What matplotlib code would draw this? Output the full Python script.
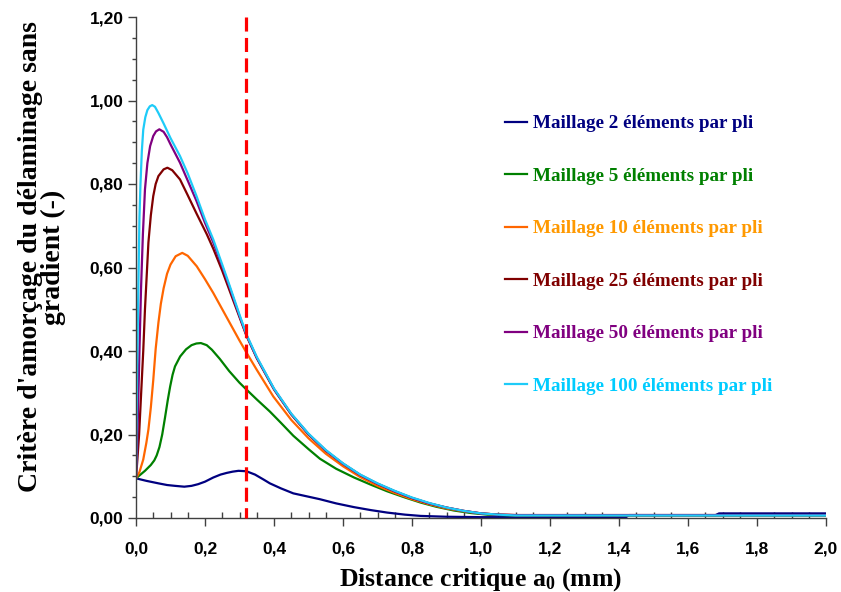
import matplotlib
matplotlib.use("Agg")
import matplotlib.pyplot as plt
from matplotlib.ticker import MultipleLocator, FixedLocator

plt.rcParams['mathtext.fontset'] = 'custom'
plt.rcParams['mathtext.rm'] = 'Liberation Serif:bold'
plt.rcParams['mathtext.bf'] = 'Liberation Serif:bold'
plt.rcParams['mathtext.it'] = 'Liberation Serif:bold:italic'

# ---------------- data ----------------
labels = ["Maillage 2 éléments par pli", "Maillage 5 éléments par pli",
          "Maillage 10 éléments par pli", "Maillage 25 éléments par pli",
          "Maillage 50 éléments par pli", "Maillage 100 éléments par pli"]
line_colors = ["#000080", "#008000", "#FF6600", "#800000", "#800080", "#1ECBF8"]
text_colors = ["#000080", "#008000", "#FF9900", "#800000", "#800080", "#00CCFF"]

x_2 = [0, 0.03, 0.065, 0.09, 0.113, 0.14, 0.161, 0.18, 0.2, 0.224, 0.245, 0.263, 0.28,
       0.297, 0.32, 0.345, 0.37, 0.388, 0.42, 0.456, 0.5, 0.533, 0.58, 0.632, 0.68, 0.728,
       0.78, 0.825, 0.9, 1.0, 1.2, 1.42, 1.43, 1.68, 1.69, 2.0]
y_2 = [0.095, 0.089, 0.083, 0.079, 0.077, 0.075, 0.077, 0.081, 0.087, 0.097, 0.104, 0.108, 0.111,
       0.113, 0.112, 0.104, 0.092, 0.083, 0.071, 0.059, 0.051, 0.045, 0.035, 0.026, 0.019, 0.013,
       0.008, 0.005, 0.003, 0.002, 0.002, 0.002, 0.007, 0.007, 0.011, 0.011]

x_5 = [0, 0.026, 0.043, 0.053, 0.06, 0.068, 0.076, 0.084, 0.092, 0.099, 0.106, 0.113, 0.128, 0.145,
       0.161, 0.175, 0.188, 0.205, 0.22, 0.243, 0.27, 0.3, 0.321, 0.35, 0.388, 0.42, 0.456, 0.5,
       0.533, 0.58, 0.632, 0.68, 0.728, 0.78, 0.825, 0.87, 0.921, 0.97, 1.018, 1.1, 1.3, 1.6, 2.0]
y_5 = [0.095, 0.113, 0.127, 0.138, 0.150, 0.170, 0.200, 0.240, 0.282, 0.315, 0.343, 0.363, 0.387, 0.404,
       0.414, 0.418, 0.419, 0.414, 0.403, 0.381, 0.352, 0.324, 0.307, 0.284, 0.255, 0.228, 0.197, 0.165,
       0.142, 0.118, 0.097, 0.080, 0.064, 0.049, 0.037, 0.027, 0.018, 0.012, 0.008, 0.006, 0.006, 0.006, 0.006]

x_10 = [0, 0.01, 0.021, 0.03, 0.036, 0.043, 0.05, 0.057, 0.065, 0.072, 0.08, 0.09, 0.1, 0.115,
        0.134, 0.15, 0.176, 0.2, 0.224, 0.25, 0.272, 0.3, 0.321, 0.35, 0.398, 0.45, 0.5, 0.55,
        0.6, 0.65, 0.7, 0.75, 0.8, 0.85, 0.9, 0.95, 1.0, 1.05, 1.1, 1.3, 1.6, 2.0]
y_10 = [0.095, 0.110, 0.140, 0.180, 0.212, 0.265, 0.330, 0.405, 0.468, 0.513, 0.550, 0.585, 0.607, 0.627,
        0.635, 0.628, 0.603, 0.572, 0.539, 0.500, 0.467, 0.425, 0.395, 0.355, 0.291, 0.235, 0.191, 0.154,
        0.124, 0.098, 0.077, 0.060, 0.045, 0.033, 0.023, 0.016, 0.011, 0.008, 0.007, 0.007, 0.007, 0.007]

x_25 = [0, 0.004, 0.009, 0.015, 0.021, 0.026, 0.036, 0.043, 0.05, 0.057, 0.065, 0.08, 0.091, 0.105,
        0.1275, 0.15, 0.175, 0.205, 0.224, 0.25, 0.272, 0.3, 0.32, 0.35, 0.4, 0.45, 0.5, 0.55, 0.6,
        0.65, 0.7, 0.75, 0.8, 0.85, 0.9, 0.95, 1.0, 1.05, 1.1, 1.3, 1.6, 2.0]
y_25 = [0.095, 0.140, 0.200, 0.300, 0.400, 0.500, 0.660, 0.725, 0.771, 0.800, 0.819, 0.835, 0.839, 0.833,
        0.811, 0.773, 0.730, 0.680, 0.645, 0.592, 0.543, 0.481, 0.437, 0.383, 0.308, 0.248, 0.200, 0.161, 0.130,
        0.103, 0.082, 0.064, 0.048, 0.035, 0.025, 0.017, 0.011, 0.008, 0.007, 0.007, 0.007, 0.007]

x_50 = [0, 0.003, 0.006, 0.01, 0.0145, 0.02, 0.026, 0.033, 0.041, 0.05, 0.058, 0.0676, 0.08, 0.09,
        0.1, 0.1275, 0.15, 0.175, 0.2, 0.224, 0.25, 0.272, 0.3, 0.32, 0.35, 0.4, 0.45, 0.5, 0.55,
        0.6, 0.65, 0.7, 0.75, 0.8, 0.85, 0.9, 0.95, 1.0, 1.05, 1.1, 1.3, 1.6, 2.0]
y_50 = [0.095, 0.160, 0.260, 0.400, 0.547, 0.680, 0.787, 0.850, 0.891, 0.915, 0.926, 0.931, 0.925, 0.912,
        0.895, 0.851, 0.808, 0.760, 0.707, 0.660, 0.602, 0.551, 0.484, 0.438, 0.384, 0.309, 0.249, 0.201, 0.162,
        0.130, 0.103, 0.082, 0.064, 0.048, 0.035, 0.025, 0.017, 0.011, 0.008, 0.007, 0.007, 0.007, 0.007]

x_100 = [0, 0.002, 0.004, 0.007, 0.01, 0.013, 0.017, 0.021, 0.027, 0.033, 0.04, 0.047, 0.055,
         0.065, 0.08, 0.1, 0.1275, 0.15, 0.175, 0.2, 0.224, 0.25, 0.272, 0.3, 0.32, 0.35, 0.4, 0.45,
         0.5, 0.55, 0.6, 0.65, 0.7, 0.75, 0.8, 0.85, 0.9, 0.95, 1.0, 1.05, 1.1, 1.3, 1.6, 2.0]
y_100 = [0.095, 0.250, 0.400, 0.560, 0.720, 0.800, 0.880, 0.930, 0.960, 0.977, 0.986, 0.989, 0.985,
         0.970, 0.945, 0.910, 0.867, 0.825, 0.772, 0.715, 0.667, 0.607, 0.555, 0.487, 0.440, 0.386, 0.310, 0.250,
         0.202, 0.163, 0.131, 0.104, 0.083, 0.065, 0.049, 0.036, 0.025, 0.017, 0.011, 0.008, 0.006, 0.006, 0.006, 0.006]

series_x = [x_2, x_5, x_10, x_25, x_50, x_100]
series_y = [y_2, y_5, y_10, y_25, y_50, y_100]

x_critical = 0.32

xticks = [0.0, 0.2, 0.4, 0.6, 0.8, 1.0, 1.2, 1.4, 1.6, 1.8, 2.0]
xticklabels = ["0,0", "0,2", "0,4", "0,6", "0,8", "1,0", "1,2", "1,4", "1,6", "1,8", "2,0"]
yticks = [0.0, 0.2, 0.4, 0.6, 0.8, 1.0, 1.2]
yticklabels = ["0,00", "0,20", "0,40", "0,60", "0,80", "1,00", "1,20"]

# ---------------- figure ----------------
fig = plt.figure(figsize=(8.41, 5.92), dpi=100)
ax = fig.add_axes([136 / 841, 74 / 592, 690 / 841, 501 / 592])

handles = []
for xs, ys, c, lab in zip(series_x, series_y, line_colors, labels):
    h, = ax.plot(xs, ys, color=c, lw=1.6, label=lab, solid_joinstyle='round')
    handles.append(h)

ax.plot([x_critical, x_critical], [1.2, 0.0], color="#FF0000", lw=2.3,
        linestyle=(0, (4.4, 2.0)), clip_on=False, zorder=5)

ax.set_xlim(0, 2.0)
ax.set_ylim(0, 1.2)

for s in ["top", "right"]:
    ax.spines[s].set_visible(False)
for s in ["left", "bottom"]:
    ax.spines[s].set_color("#404040")
    ax.spines[s].set_linewidth(1.0)

ax.xaxis.set_major_locator(FixedLocator(xticks))
ax.yaxis.set_major_locator(FixedLocator(yticks))
ax.xaxis.set_minor_locator(MultipleLocator(0.05))
ax.yaxis.set_minor_locator(MultipleLocator(0.05))
ax.set_xticklabels(xticklabels, fontfamily="Liberation Sans", fontweight="bold", fontsize=12.5)
ax.set_yticklabels(yticklabels, fontfamily="Liberation Sans", fontweight="bold", fontsize=12.5)
ax.tick_params(axis="x", which="major", direction="out", length=6, width=1, color="#404040", pad=11)
ax.tick_params(axis="x", which="minor", direction="in", length=4, width=1, color="#404040")
ax.tick_params(axis="y", which="major", direction="out", length=6, width=1, color="#404040", pad=3)
ax.tick_params(axis="y", which="minor", direction="out", length=3, width=1, color="#404040")

ax.set_xlabel("Distance critique a$_{\\mathbf{0}}$ (mm)", fontfamily="Liberation Serif",
              fontweight="bold", fontsize=18.5, labelpad=7)
fig.text(0.050, 0.566, "Critère d'amorçage du délaminage sans\ngradient (-)",
         rotation=90, ha="center", va="center", multialignment="center",
         fontfamily="Liberation Serif", fontweight="bold", fontsize=20, linespacing=0.92)

leg = fig.legend(handles=handles, labels=labels, loc="upper left",
                 bbox_to_anchor=(505 / 841, 1 - 115 / 592), frameon=False,
                 prop={"family": "Liberation Serif", "weight": "bold", "size": 13.8},
                 handlelength=1.15, handletextpad=0.3, labelspacing=1.83,
                 borderpad=0, borderaxespad=0)
for t, c in zip(leg.get_texts(), text_colors):
    t.set_color(c)

fig.savefig("out.png", dpi=100)
